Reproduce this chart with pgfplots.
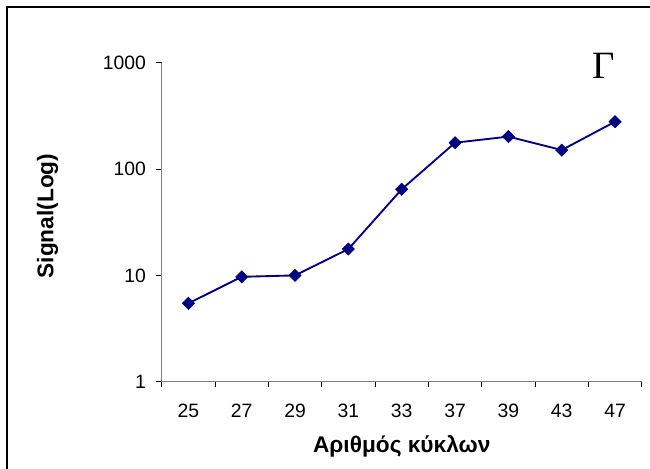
\documentclass[border=0pt]{standalone}
\usepackage{pgfplots}
\pgfplotsset{compat=1.18}
\usepackage{fontspec}
\setmainfont{Liberation Sans}
\newfontfamily\serifgr{Liberation Serif}
\definecolor{navyline}{RGB}{0,0,128}
\definecolor{axgray}{RGB}{128,128,128}
\begin{document}
\begin{tikzpicture}[x=1pt,y=1pt]
\useasboundingbox (-121.3,-64.7) rectangle (366.2,286.3);
\draw[line width=1.6pt] (-116.2,-70) -- (-116.2,280.8) -- (372,280.8);
\begin{axis}[
  at={(0,0)}, anchor=south west,
  scale only axis, width=360pt, height=239.25pt,
  ymode=log, ymin=1, ymax=1000,
  xmin=-0.5, xmax=8.5,
  axis lines*=left,
  axis line style={axgray, line width=0.9pt},
  xtick={0,...,8},
  xticklabels={25,27,29,31,33,37,39,43,47},
  minor xtick={-0.5,0.5,...,8.5},
  ytick={1,10,100,1000},
  yticklabels={1,10,100,1000},
  yminorticks=false,
  major tick length=4.3pt,
  minor tick length=4.3pt,
  tick align=outside,
  tick style={black, line width=0.6pt},
  x tick style={draw=none},
  minor x tick style={draw=black, line width=0.6pt},
  xticklabel style={yshift=-9pt},
  yticklabel style={xshift=-4pt},
  ticklabel style={font=\fontsize{14.5}{16}\selectfont},
  /pgf/number format/assume math mode=true,
  xlabel={Αριθμός κύκλων},
  ylabel={Signal(Log)},
  label style={font=\fontsize{17}{19}\selectfont\bfseries},
  xlabel style={at={(axis description cs:0.5,-0.2015)}, anchor=center},
  ylabel style={at={(axis description cs:-0.238,0.5196)}, anchor=center},
  clip=false,
]
\addplot[color=navyline, line width=1.4pt, mark=square*, mark size=3.2pt,
  mark options={rotate=45, fill=navyline, draw=navyline, line width=0.5pt}]
  coordinates {(0,5.46) (1,9.7) (2,10.0) (3,17.7) (4,64.6) (5,177) (6,202) (7,151) (8,279)};
\end{axis}
\node at (331.4,237.2) {\serifgr\fontsize{29}{30}\selectfont Γ};
\end{tikzpicture}
\end{document}
